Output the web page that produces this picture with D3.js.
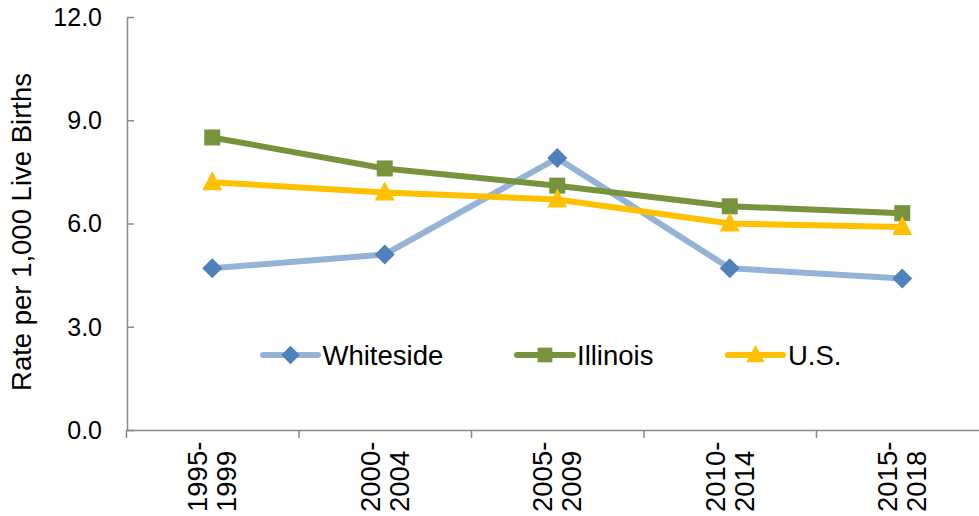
<!DOCTYPE html>
<html>
<head>
<meta charset="utf-8">
<script src="https://cdn.jsdelivr.net/npm/d3@7"></script>
<style>
  html, body { margin: 0; padding: 0; background: #fff; }
  svg { display: block; font-family: Arial, "Liberation Sans", sans-serif; }
</style>
</head>
<body>
<svg id="chart" width="979" height="516"></svg>
<script>
const categories = [["1995-", "1999"], ["2000-", "2004"], ["2005-", "2009"], ["2010-", "2014"], ["2015-", "2018"]];
const seriesNames = ["Whiteside", "Illinois", "U.S."];
const whiteside = [4.7, 5.1, 7.9, 4.7, 4.4];
const illinois = [8.5, 7.6, 7.1, 6.5, 6.3];
const us = [7.2, 6.9, 6.7, 6.0, 5.9];
const yTicks = [0, 3, 6, 9, 12];
const yTitle = "Rate per 1,000 Live Births";

const series = [
  { name: seriesNames[0], values: whiteside, line: "#95B3D7", marker: "#4F81BD", shape: "diamond" },
  { name: seriesNames[1], values: illinois, line: "#77933C", marker: "#77933C", shape: "square" },
  { name: seriesNames[2], values: us, line: "#FFC000", marker: "#FFC000", shape: "triangle" }
];

const svg = d3.select("#chart");
const axisColor = "#898989";
const tickFont = 25;
const textFont = 27.5;

const x = d3.scaleBand().domain(d3.range(categories.length)).range([126, 988.5]).padding(0);
const y = d3.scaleLinear().domain([0, 12]).range([430, 17]);
const cx = i => x(i) + x.bandwidth() / 2;

// Y axis
const yAxis = svg.append("g").attr("transform", "translate(127,0)")
  .call(d3.axisRight(y).tickValues(yTicks).tickSize(7).tickFormat(() => ""));
yAxis.select(".domain").attr("stroke", axisColor).attr("stroke-width", 1.5).attr("d", `M0.5,${y(12)}V${y(0)}`);
yAxis.selectAll(".tick line").attr("stroke", axisColor).attr("stroke-width", 1.5);
svg.append("g").selectAll("text").data(yTicks).join("text")
  .attr("x", 102).attr("y", d => y(d)).attr("dy", "0.35em")
  .attr("text-anchor", "end").attr("font-size", tickFont).attr("fill", "#000")
  .text(d => d3.format(".1f")(d));

// X axis
const xAxis = svg.append("g").attr("transform", "translate(0,430)")
  .call(d3.axisBottom(x).tickSize(0).tickFormat(() => ""));
xAxis.select(".domain").attr("stroke", axisColor).attr("stroke-width", 1.5).attr("d", `M126,0.5H979`);
xAxis.selectAll(".tick").remove();
const bounds = d3.range(categories.length + 1).map(i => i < categories.length ? x(i) : x(i - 1) + x.bandwidth());
xAxis.selectAll("line.bt").data(bounds).join("line").attr("class", "bt")
  .attr("x1", d => d + 0.5).attr("x2", d => d + 0.5).attr("y1", 0).attr("y2", 8)
  .attr("stroke", axisColor).attr("stroke-width", 1.5);

// X labels (rotated)
const xl = svg.append("g");
categories.forEach((lines, i) => {
  const t = xl.append("text")
    .attr("transform", `translate(${cx(i)},512) rotate(-90)`)
    .attr("text-anchor", "start").attr("font-size", textFont).attr("fill", "#000");
  lines.forEach((ln, j) => {
    t.append("tspan").attr("x", 0).attr("y", (j === 0 ? -14.5 : 14.5)).attr("dy", "0.35em").text(ln);
  });
});

// Y title
svg.append("text")
  .attr("transform", `translate(21,232) rotate(-90)`)
  .attr("text-anchor", "middle").attr("dy", "0.35em")
  .attr("font-size", textFont).attr("fill", "#000").text(yTitle);

// Marker shapes
function markerPath(shape, k) {
  k = k || 1;
  if (shape === "diamond") return `M0,${-10*k}L${10*k},0L0,${10*k}L${-10*k},0Z`;
  if (shape === "square") return `M${-8*k},${-8*k}H${8*k}V${8*k}H${-8*k}Z`;
  return `M0,${-11*k}L${10*k},${8*k}H${-10*k}Z`;
}

const lineGen = d3.line().x((d, i) => cx(i)).y(d => y(d));
series.forEach(s => {
  const g = svg.append("g");
  g.append("path").attr("d", lineGen(s.values)).attr("fill", "none")
    .attr("stroke", s.line).attr("stroke-width", 6).attr("stroke-linejoin", "round").attr("stroke-linecap", "round");
  g.selectAll("path.m").data(s.values).join("path").attr("class", "m")
    .attr("transform", (d, i) => `translate(${cx(i)},${y(d)})`)
    .attr("d", markerPath(s.shape)).attr("fill", s.marker);
});

// Legend
const legendItems = [
  { x0: 263, x1: 318, tx: 322.5 },
  { x0: 517, x1: 573, tx: 577 },
  { x0: 728, x1: 783, tx: 788 }
];
const ly = 355;
series.forEach((s, i) => {
  const L = legendItems[i];
  const g = svg.append("g");
  g.append("line").attr("x1", L.x0).attr("x2", L.x1).attr("y1", ly).attr("y2", ly)
    .attr("stroke", s.line).attr("stroke-width", 6).attr("stroke-linecap", "round");
  g.append("path").attr("transform", `translate(${(L.x0 + L.x1) / 2},${ly})`)
    .attr("d", markerPath(s.shape, 0.92)).attr("fill", s.marker);
  g.append("text").attr("x", L.tx).attr("y", ly).attr("dy", "0.36em")
    .attr("font-size", textFont).attr("fill", "#000").text(s.name);
});
</script>
</body>
</html>
